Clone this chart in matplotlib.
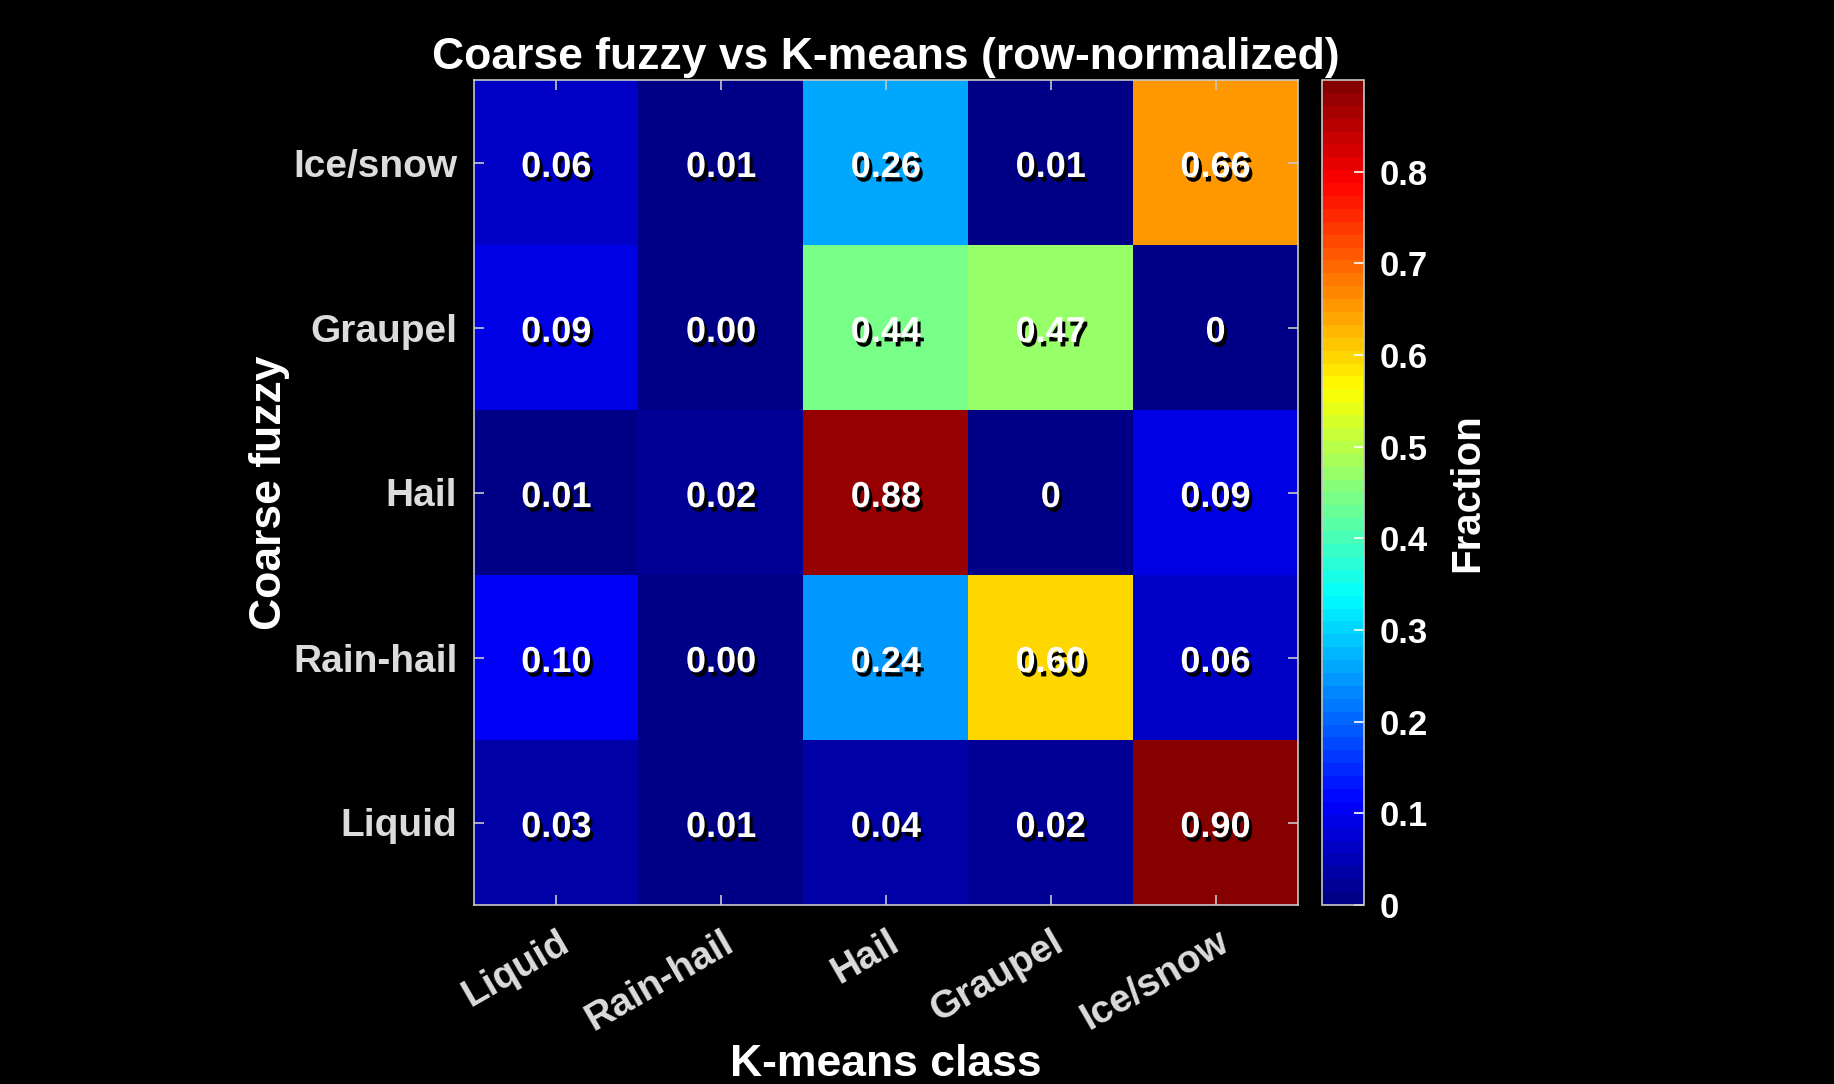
import numpy as np
import matplotlib
matplotlib.use('Agg')
import matplotlib.pyplot as plt
import matplotlib.patheffects as pe
from matplotlib.colors import ListedColormap
from matplotlib.transforms import offset_copy, ScaledTranslation

# K-means (columns) vs coarse fuzzy (rows), rows listed from bottom to top
kmeans_classes = ['Liquid', 'Rain-hail', 'Hail', 'Graupel', 'Ice/snow']
fuzzy_classes = ['Liquid', 'Rain-hail', 'Hail', 'Graupel', 'Ice/snow']

row_liquid = [0.03, 0.01, 0.04, 0.02, 0.90]
row_rainhail = [0.10, 0.004, 0.24, 0.60, 0.06]
row_hail = [0.01, 0.02, 0.88, 0.0, 0.09]
row_graupel = [0.09, 0.004, 0.44, 0.47, 0.0]
row_icesnow = [0.06, 0.01, 0.26, 0.01, 0.66]

values = np.array([row_liquid, row_rainhail, row_hail, row_graupel, row_icesnow])


def matlab_jet(n=64):
  # same shape as MATLAB's jet (slightly different from matplotlib's)
  x = (np.arange(n) + 0.5) / n
  r = np.clip(1.5 - np.abs(4 * x - 3), 0, 1)
  g = np.clip(1.5 - np.abs(4 * x - 2), 0, 1)
  b = np.clip(1.5 - np.abs(4 * x - 1), 0, 1)
  return ListedColormap(np.column_stack([r, g, b]))


plt.rcParams['font.family'] = ['Liberation Sans', 'DejaVu Sans']
plt.rcParams['font.weight'] = 'bold'

W, H = 1834, 1084
fig = plt.figure(figsize=(W / 100, H / 100), dpi=100, facecolor='black')

ax = fig.add_axes([474 / W, 1 - 905 / H, 824 / W, 825 / H])
cax = fig.add_axes([1322 / W, 1 - 905 / H, 42 / W, 825 / H])

cmap = matlab_jet(64)
im = ax.imshow(values, cmap=cmap, vmin=0, vmax=values.max(), origin='lower',
               aspect='auto', interpolation='nearest')
ax.set_facecolor('black')

# cell labels: white text with a hard black drop shadow
shadow = [pe.withSimplePatchShadow(offset=(2.2, -3.2), shadow_rgbFace='black', alpha=1.0)]
txt_trans = offset_copy(ax.transData, fig=fig, x=0, y=-5, units='dots')
for i in range(values.shape[0]):
  for j in range(values.shape[1]):
    v = values[i, j]
    txt = '0' if v == 0 else f'{v:.2f}'
    ax.text(j, i, txt, ha='center', va='center', color='white', fontsize=26,
            fontweight='bold', path_effects=shadow, transform=txt_trans)

edge = '#c8c8c8'
ax.set_xticks(range(len(kmeans_classes)))
ax.set_yticks(range(len(fuzzy_classes)))
ax.set_xticklabels(kmeans_classes, rotation=30, ha='right', va='center',
                   rotation_mode='anchor')
ax.set_yticklabels(fuzzy_classes)
ax.tick_params(axis='both', direction='in', length=7, width=1.2, colors=edge,
               labelcolor='#dcdcdc', labelsize=28, top=True, right=True)
ax.tick_params(axis='x', pad=25)
ax.tick_params(axis='y', pad=12)
shift = ScaledTranslation(10 / 100, 0, fig.dpi_scale_trans)
for lab in ax.get_xticklabels():
  lab.set_transform(lab.get_transform() + shift)
for s in ax.spines.values():
  s.set_color(edge)
  s.set_linewidth(1.2)

ax.set_xlabel('K-means class', color='white', fontsize=32, fontweight='bold', labelpad=5)
ax.set_ylabel('Coarse fuzzy', color='white', fontsize=32, fontweight='bold', labelpad=2)
ax.set_title('Coarse fuzzy vs K-means (row-normalized)', color='white', fontsize=32,
             fontweight='bold', pad=8)

cb = fig.colorbar(im, cax=cax)
cb.set_ticks([0, 0.1, 0.2, 0.3, 0.4, 0.5, 0.6, 0.7, 0.8])
cb.set_ticklabels(['0', '0.1', '0.2', '0.3', '0.4', '0.5', '0.6', '0.7', '0.8'])
cb.outline.set_edgecolor(edge)
cb.outline.set_linewidth(1.2)
cax.tick_params(direction='in', length=7, width=1.2, colors='white',
                labelcolor='white', labelsize=25, pad=11)
cb.set_label('Fraction', color='white', fontsize=29, fontweight='bold', labelpad=15)

fig.savefig('out.png', dpi=100, facecolor='black')
